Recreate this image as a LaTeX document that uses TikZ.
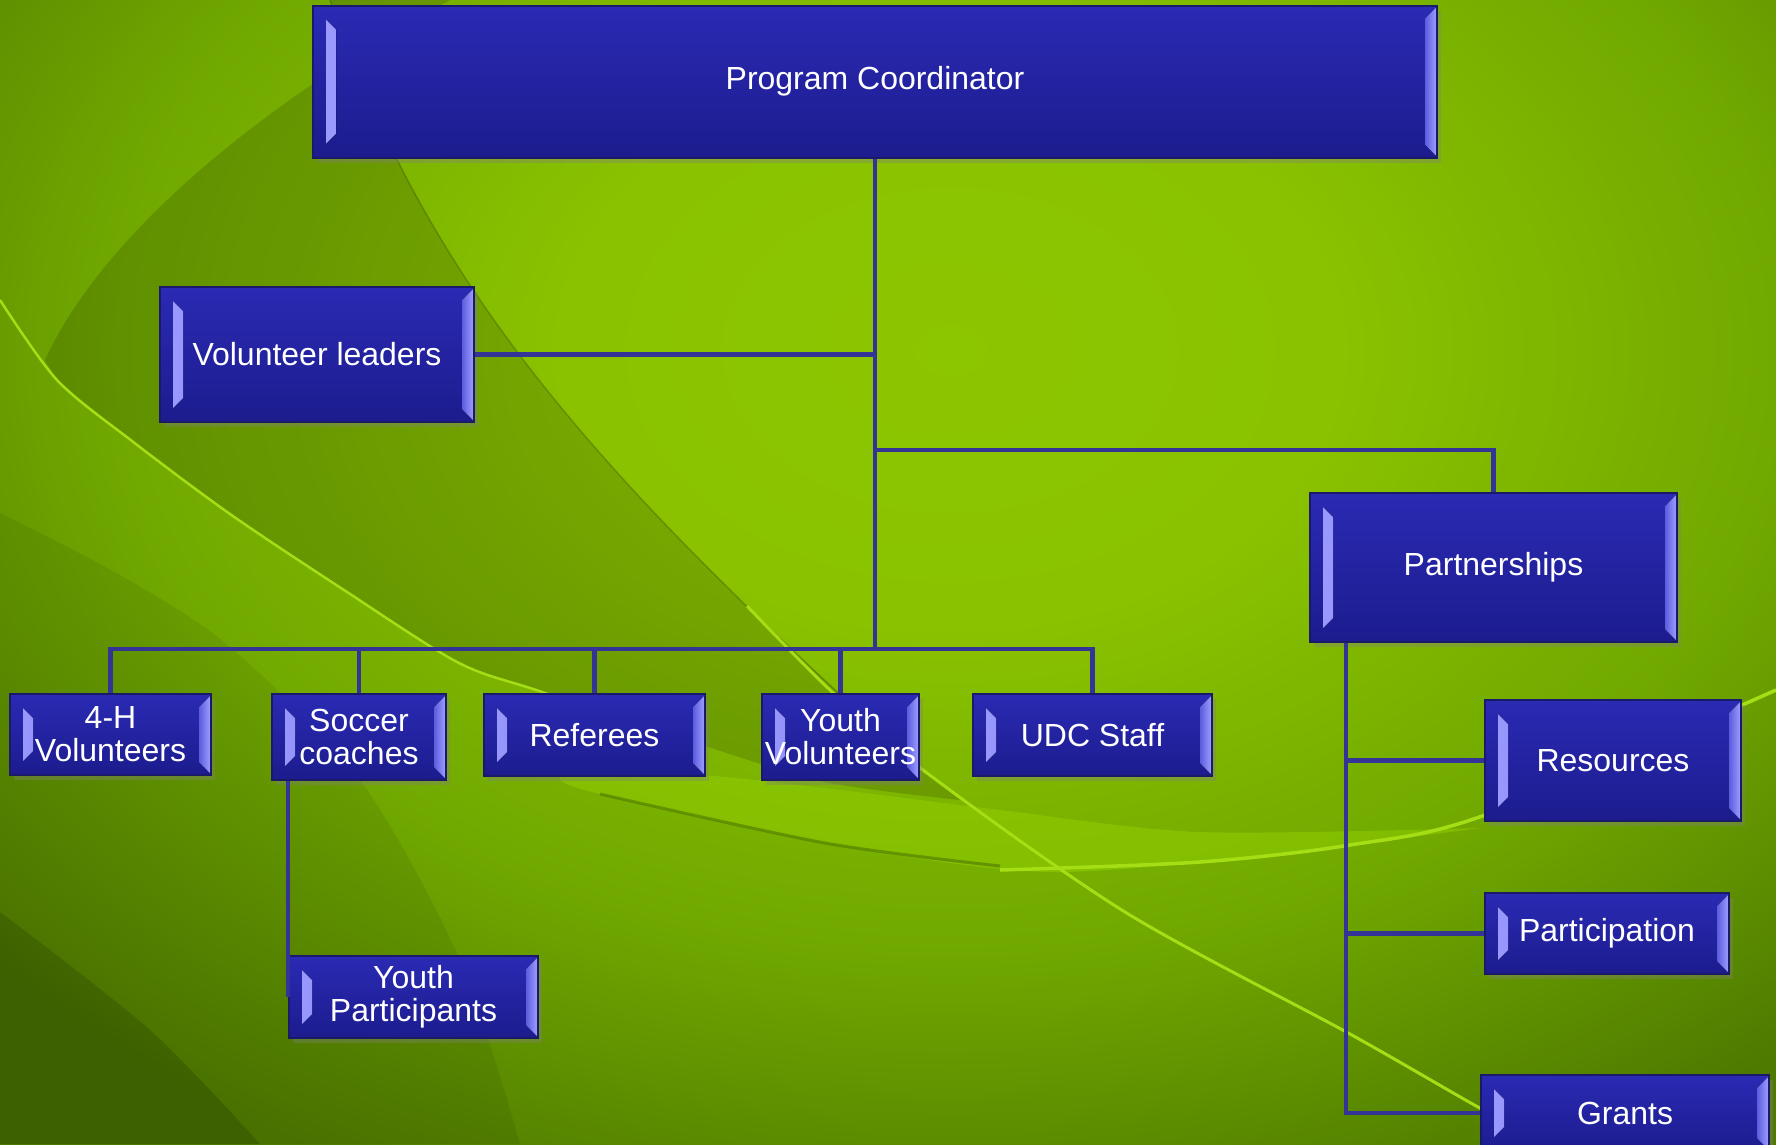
\documentclass[tikz,border=0pt]{standalone}
\usepackage{fontspec}
\setmainfont{Liberation Sans}
\usetikzlibrary{shadows}
\newcommand\unitfont{\fontsize{9.1}{9.4}\selectfont}
\definecolor{box_top}{RGB}{42,42,180}
\definecolor{box_bot}{RGB}{28,28,142}
\definecolor{box_edge}{RGB}{26,26,104}
\definecolor{bevel_hi}{RGB}{155,155,255}
\definecolor{bevel_lo}{RGB}{92,92,222}
\definecolor{link_blue}{RGB}{52,52,150}
\definecolor{line_lit}{RGB}{165,222,20}
\definecolor{line_dim}{RGB}{78,118,0}
\definecolor{band_lit}{RGB}{150,212,0}
\pgfdeclareradialshading{bgglow}{\pgfpoint{0bp}{0bp}}{rgb(0bp)=(0.55,0.776,0); rgb(7bp)=(0.54,0.76,0); rgb(15bp)=(0.44,0.66,0); rgb(23bp)=(0.306,0.478,0); rgb(50bp)=(0.306,0.478,0)}

\begin{document}
\begin{tikzpicture}[x=0.1mm,y=-0.1mm]
    \tikzstyle{bevelleft}=[left color=bevel_hi,right color=bevel_lo]
    \tikzstyle{bevelright}=[left color=bevel_lo,right color=bevel_hi]
    \tikzstyle{role}=[rectangle,draw=box_edge,line width=0.2mm,top color=box_top,bottom color=box_bot,
        text=white,align=center,inner sep=0pt,font=\unitfont,
        drop shadow={shadow xshift=0.4mm,shadow yshift=-0.5mm,opacity=0.35},
        path picture={
          \fill[bevelleft] ([shift={(1.3mm,-1.4mm)}]path picture bounding box.north west)
            -- ([shift={(2.3mm,-2.4mm)}]path picture bounding box.north west)
            -- ([shift={(2.3mm,2.4mm)}]path picture bounding box.south west)
            -- ([shift={(1.3mm,1.4mm)}]path picture bounding box.south west) -- cycle;
          \fill[bevelright] ([shift={(-0.1mm,-0.2mm)}]path picture bounding box.north east)
            -- ([shift={(-1.2mm,-1.3mm)}]path picture bounding box.north east)
            -- ([shift={(-1.2mm,1.3mm)}]path picture bounding box.south east)
            -- ([shift={(-0.1mm,0.2mm)}]path picture bounding box.south east) -- cycle;
        }]
    \tikzstyle{link}=[draw=link_blue,line width=0.45mm]

    \useasboundingbox (0,0) rectangle (1776,1144);

    % green backdrop with the sweeps
    \begin{scope}
      \clip (0,0) rectangle (1776,1144);
      \shade[shading=bgglow] (-450,-650) rectangle (2350,1350);
      \fill[black,fill opacity=0.14] (450,0) .. controls (250,110) and (100,240) .. (45,360)
        -- plot[smooth] coordinates {(57,380) (132,441) (230,514) (344,590) (459,663) (545,693) (705,746) (825,782) (960,800)}
        -- (923,770) .. controls (600,480) and (430,290) .. (330,0) -- cycle;
      \fill[band_lit,fill opacity=0.45]
        plot[smooth] coordinates {(560,770) (700,775) (825,788) (1000,810) (1200,832) (1480,828)}
        -- plot[smooth] coordinates {(1300,852) (1050,872) (825,843) (600,794) (560,780)} -- cycle;
      \fill[black,fill opacity=0.07] plot[smooth] coordinates {(0,513) (120,575) (230,647) (360,780) (460,960) (520,1144)} -- (0,1144) -- cycle;
      \fill[black,fill opacity=0.14] plot[smooth] coordinates {(0,912) (150,1030) (260,1144)} -- (0,1144) -- cycle;
      \draw[black,opacity=0.18,line width=0.15mm] (330,0) .. controls (430,290) and (600,480) .. (923,770);
      \draw[line_lit,line width=0.25mm] plot[smooth] coordinates {(0,300) (57,380) (132,441) (230,514) (344,590) (459,663) (545,693) (705,750)};
      \draw[line_dim,line width=0.3mm,opacity=0.6] plot[smooth] coordinates {(600,794) (825,843) (1000,866)};
      \draw[line_lit,line width=0.35mm] plot[smooth] coordinates {(1000,870) (1200,862) (1350,845) (1485,815) (1776,690)};
      \draw[line_lit,line width=0.3mm] plot[smooth] coordinates {(747,606) (830,690) (923,770) (1125,912) (1350,1034) (1478,1107) (1560,1150)};
    \end{scope}

    \node[role,minimum width=112.4mm,minimum height=15.2mm] (coord) at (875,81.5)   {Program Coordinator};
    \node[role,minimum width=31.4mm,minimum height=13.5mm]  (vol)   at (317,354.5)  {Volunteer leaders};
    \node[role,minimum width=36.7mm,minimum height=14.9mm]  (part)  at (1493.5,567.5) {Partnerships};
    \node[role,minimum width=20.1mm,minimum height=8.1mm]   (fourh) at (110.5,734.5) {4-H\\Volunteers};
    \node[role,minimum width=17.4mm,minimum height=8.6mm]   (soccer) at (359,737)    {Soccer\\coaches};
    \node[role,minimum width=22.1mm,minimum height=8.2mm]   (ref)   at (594.5,735)   {Referees};
    \node[role,minimum width=15.7mm,minimum height=8.6mm]   (yvol)  at (840.5,737)   {Youth\\Volunteers};
    \node[role,minimum width=23.9mm,minimum height=8.2mm]   (udc)   at (1092.5,735)  {UDC Staff};
    \node[role,minimum width=24.9mm,minimum height=8.2mm]   (ypart) at (413.5,997)   {Youth\\Participants};
    \node[role,minimum width=25.6mm,minimum height=12.1mm]  (res)   at (1613,760.5)  {Resources};
    \node[role,minimum width=24.4mm,minimum height=8.1mm]   (parti) at (1607,933.5)  {Participation};
    \node[role,minimum width=28.8mm,minimum height=7.6mm]   (grants) at (1625,1113)  {Grants};

    \coordinate (bus)   at (875,649);
    \coordinate (split) at (875,450);
    \coordinate (spine) at ([xshift=3.7mm]part.south west);

    \draw[link] (coord.south) -- (bus)
      (vol.east) -- (vol.east -| coord.south)
      (split) -| (part.north)
      (bus) -| (fourh.north)
      (bus) -| (soccer.north)
      (bus) -| (ref.north)
      (bus) -| (yvol.north)
      (bus) -| (udc.north)
      (ypart.west) -- (ypart.west |- soccer.south)
      (spine) |- (grants.west)
      (res.west) -- (res.west -| spine)
      (parti.west) -- (parti.west -| spine);
\end{tikzpicture}
\end{document}
